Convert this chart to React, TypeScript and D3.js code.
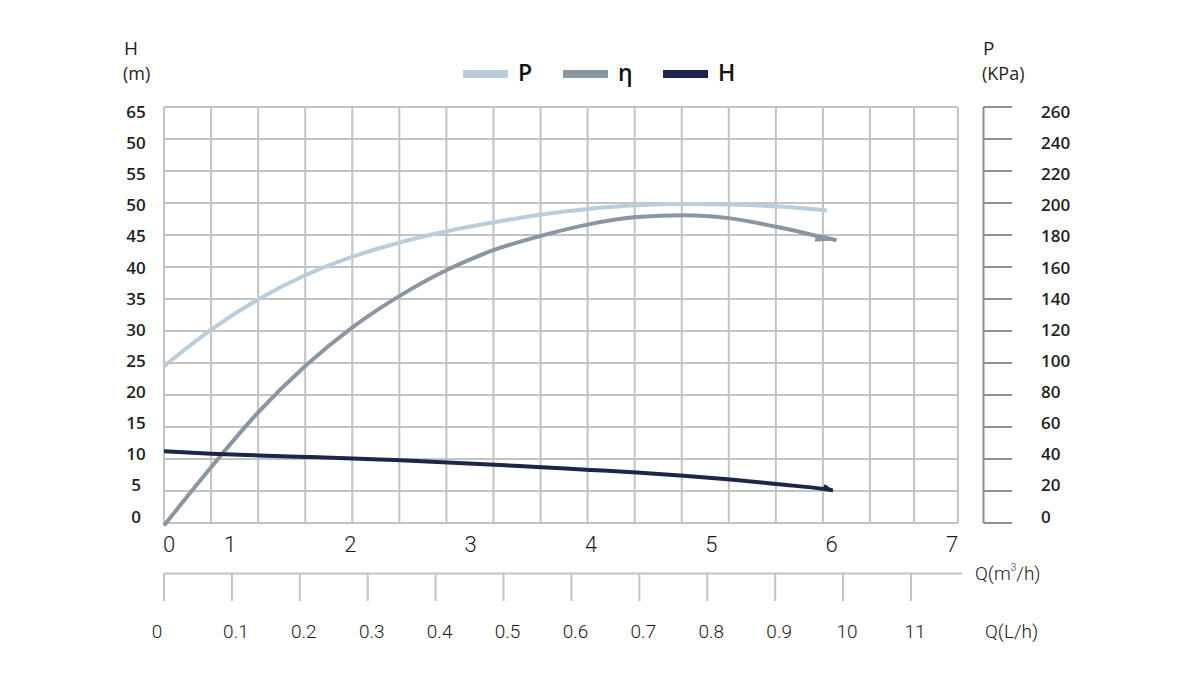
import { useEffect, useRef } from 'react';
import * as d3 from 'd3';

// flow axis (m3/h) and tick labels
const qTicks = [0, 1, 2, 3, 4, 5, 6, 7];
const hTickLabels = ['65', '50', '55', '50', '45', '40', '35', '30', '25', '20', '15', '10', '5', '0'];
const pTickLabels = ['260', '240', '220', '200', '180', '160', '140', '120', '100', '80', '60', '40', '20', '0'];
const lhTickLabels = ['0', '0.1', '0.2', '0.3', '0.4', '0.5', '0.6', '0.7', '0.8', '0.9', '10', '11'];

// P curve (KPa, right axis)
const pFlow = [0, 0.72, 1.24, 1.63, 2.02, 2.42, 2.81, 3.2, 3.59, 3.99, 4.38, 4.77, 5.16, 5.56, 5.96];
const pValues = [98, 121, 140, 155, 166.5, 175.5, 182.5, 188, 192.8, 196.4, 198.6, 199.3, 199, 197.8, 195.3];

// efficiency curve (left axis units)
const etaFlow = [0, 0.72, 1.24, 1.63, 2.02, 2.42, 2.81, 3.2, 3.59, 3.99, 4.38, 4.77, 5.16, 5.56, 5.94, 6.04];
const etaValues = [-0.4, 8.8, 17.4, 24.6, 30.6, 35.6, 39.6, 42.7, 44.9, 46.7, 47.8, 48.1, 47.6, 46.2, 44.6, 44.2];

// head curve (m, left axis)
const hFlow = [0, 0.72, 1.24, 1.63, 2.02, 2.42, 2.81, 3.2, 3.59, 3.99, 4.38, 4.77, 5.16, 5.56, 5.94, 6.01];
const hValues = [11.2, 10.83, 10.56, 10.32, 10.08, 9.8, 9.47, 9.1, 8.7, 8.3, 7.9, 7.4, 6.8, 6.05, 5.3, 5.1];

const legendItems = [
  { label: 'P', color: '#b9cdda' },
  { label: 'η', color: '#8a96a1' },
  { label: 'H', color: '#1c2648' },
];

const W = 1200;
const H = 700;
const plotLeft = 164;
const plotRight = 958;
const plotTop = 107;
const plotBottom = 523;
const gridColor = '#c3c3c3';
const labelFont = "'Open Sans', 'Noto Sans', sans-serif";
const thinFont = "Roboto, 'Noto Sans', sans-serif";

export default function App() {
  const svgRef = useRef<SVGSVGElement>(null);

  useEffect(() => {
    if (!svgRef.current) return;
    const svg = d3.select(svgRef.current);
    svg.selectAll('*').remove();

    // the flow axis is squeezed between 0 and 1 in the original sheet
    const x = d3.scaleLinear().domain([0, 1, 7]).range([plotLeft, 230, 952]);
    const yH = d3.scaleLinear().domain([0, 65]).range([plotBottom, plotTop]);
    const yP = d3.scaleLinear().domain([0, 260]).range([plotBottom, plotTop]);
    const labelY = d3.scaleLinear().domain([0, 13]).range([111.5, 516]);
    const gridX = d3.scaleLinear().domain([0, 15, 17]).range([plotLeft, 870, plotRight]);
    const gridY = d3.scaleLinear().domain([0, 13]).range([plotTop, plotBottom]);
    const lhX = d3.scalePoint<string>().domain(lhTickLabels).range([plotLeft, 911]);

    svg.append('rect').attr('width', W).attr('height', H).attr('fill', '#fff');

    // grid
    const grid = svg.append('g').attr('stroke', gridColor).attr('stroke-width', 2);
    d3.range(18).forEach(i => {
      grid.append('line')
        .attr('x1', gridX(i)).attr('x2', gridX(i))
        .attr('y1', plotTop).attr('y2', plotBottom);
    });
    d3.range(14).forEach(i => {
      grid.append('line')
        .attr('x1', plotLeft).attr('x2', plotRight)
        .attr('y1', gridY(i)).attr('y2', gridY(i));
    });

    // left axis labels
    hTickLabels.forEach((t, i) => {
      svg.append('text')
        .attr('x', 136).attr('y', labelY(i))
        .attr('text-anchor', 'middle').attr('dominant-baseline', 'central')
        .attr('font-family', labelFont).attr('font-size', 17).attr('font-weight', 600)
        .attr('fill', '#1f1f1f').text(t);
    });
    svg.append('text').attr('x', 124).attr('y', 55)
      .attr('font-family', labelFont).attr('font-size', 19).attr('fill', '#1f1f1f').text('H');
    svg.append('text').attr('x', 123).attr('y', 80)
      .attr('font-family', labelFont).attr('font-size', 18).attr('fill', '#1f1f1f').text('(m)');

    // right axis
    const rAxis = svg.append('g').attr('stroke', '#8e8e8e').attr('stroke-width', 2);
    rAxis.append('line').attr('x1', 983.5).attr('x2', 983.5).attr('y1', plotTop).attr('y2', plotBottom);
    d3.range(14).forEach(i => {
      rAxis.append('line').attr('x1', 983.5).attr('x2', 1012)
        .attr('y1', gridY(i)).attr('y2', gridY(i));
    });
    pTickLabels.forEach((t, i) => {
      svg.append('text')
        .attr('x', 1041).attr('y', labelY(i))
        .attr('dominant-baseline', 'central')
        .attr('font-family', labelFont).attr('font-size', 17).attr('font-weight', 600)
        .attr('fill', '#1f1f1f').text(t);
    });
    svg.append('text').attr('x', 983).attr('y', 55)
      .attr('font-family', labelFont).attr('font-size', 19).attr('fill', '#1f1f1f').text('P');
    svg.append('text').attr('x', 982).attr('y', 80)
      .attr('font-family', labelFont).attr('font-size', 18).attr('fill', '#1f1f1f').text('(KPa)');

    // flow axis labels (m3/h)
    qTicks.forEach(q => {
      svg.append('text')
        .attr('x', q === 0 ? x(q) + 5 : x(q)).attr('y', 552)
        .attr('text-anchor', 'middle')
        .attr('font-family', thinFont).attr('font-size', 22).attr('font-weight', 300)
        .attr('fill', '#1a1a1a').text(String(q));
    });
    const qLabel = svg.append('text').attr('x', 975).attr('y', 580)
      .attr('font-family', thinFont).attr('font-size', 19).attr('font-weight', 300).attr('fill', '#1a1a1a');
    qLabel.append('tspan').text('Q(m');
    qLabel.append('tspan').attr('dy', -9).attr('font-size', 10).text('3');
    qLabel.append('tspan').attr('dy', 9).text('/h)');

    // L/h axis
    const lAxis = svg.append('g').attr('stroke', gridColor).attr('stroke-width', 2);
    lAxis.append('line').attr('x1', plotLeft).attr('x2', 962).attr('y1', 573.5).attr('y2', 573.5);
    lhTickLabels.forEach(t => {
      lAxis.append('line').attr('x1', lhX(t)!).attr('x2', lhX(t)!).attr('y1', 573.5).attr('y2', 601);
    });
    lhTickLabels.forEach((t, i) => {
      svg.append('text')
        .attr('x', i === 0 ? lhX(t)! - 7 : lhX(t)! + 4).attr('y', 638)
        .attr('text-anchor', 'middle')
        .attr('font-family', thinFont).attr('font-size', 19).attr('font-weight', 300)
        .attr('fill', '#1a1a1a').text(t);
    });
    svg.append('text').attr('x', 985).attr('y', 638)
      .attr('font-family', thinFont).attr('font-size', 19).attr('font-weight', 300)
      .attr('fill', '#1a1a1a').text('Q(L/h)');

    // markers for the curve ends
    const defs = svg.append('defs');
    defs.append('marker')
      .attr('id', 'eta-end').attr('markerUnits', 'userSpaceOnUse')
      .attr('viewBox', '-22 -8 24 16').attr('refX', 0).attr('refY', 0)
      .attr('markerWidth', 24).attr('markerHeight', 16).attr('orient', 'auto')
      .append('path').attr('d', 'M-21,0 L1,0 L-21,6 Z').attr('fill', legendItems[1].color);
    defs.append('marker')
      .attr('id', 'h-end').attr('markerUnits', 'userSpaceOnUse')
      .attr('viewBox', '-12 -8 14 16').attr('refX', 0).attr('refY', 0)
      .attr('markerWidth', 14).attr('markerHeight', 16).attr('orient', 'auto')
      .append('path').attr('d', 'M-10,0 L1,0 L-9,-5 Z').attr('fill', legendItems[2].color);

    const line = (xs: number[], ys: number[], yScale: d3.ScaleLinear<number, number>) =>
      d3.line<number>()
        .x((_, i) => x(xs[i]))
        .y(d => yScale(d))
        .curve(d3.curveMonotoneX)(ys);

    svg.append('path')
      .attr('d', line(pFlow, pValues, yP))
      .attr('fill', 'none').attr('stroke', legendItems[0].color).attr('stroke-width', 4);
    svg.append('path')
      .attr('d', line(etaFlow, etaValues, yH))
      .attr('fill', 'none').attr('stroke', legendItems[1].color).attr('stroke-width', 4)
      .attr('marker-end', 'url(#eta-end)');
    svg.append('path')
      .attr('d', line(hFlow, hValues, yH))
      .attr('fill', 'none').attr('stroke', legendItems[2].color).attr('stroke-width', 4)
      .attr('marker-end', 'url(#h-end)');

    // legend
    const legendX = d3.scalePoint<string>().domain(legendItems.map(d => d.label)).range([463, 663]);
    legendItems.forEach(item => {
      const lx = legendX(item.label)!;
      svg.append('rect').attr('x', lx).attr('y', 70).attr('width', 45).attr('height', 8)
        .attr('fill', item.color);
      svg.append('text').attr('x', lx + 55).attr('y', 81)
        .attr('font-family', labelFont).attr('font-size', 23).attr('font-weight', 600)
        .attr('fill', '#111').text(item.label);
    });
  }, []);

  return (
    <svg
      ref={svgRef}
      width={W}
      height={H}
      style={{ position: 'absolute', left: 0, top: 0, display: 'block' }}
    />
  );
}
